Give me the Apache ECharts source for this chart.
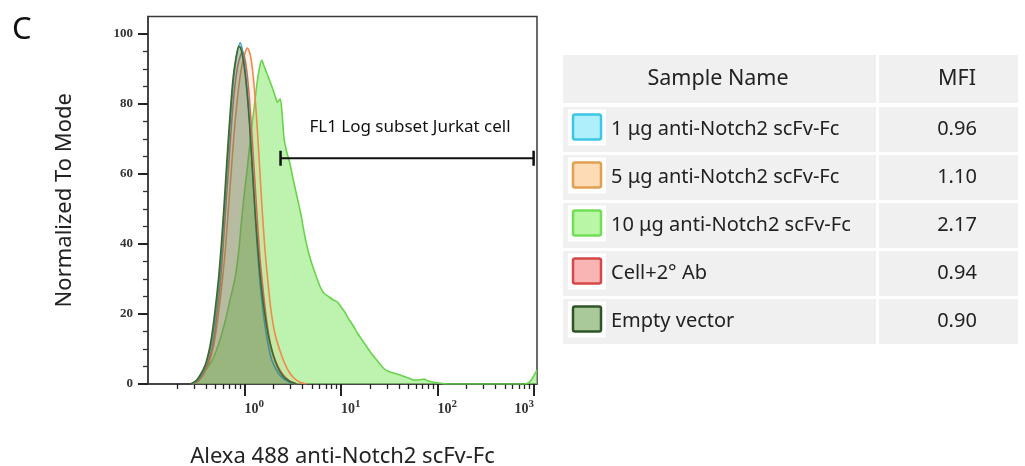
<!DOCTYPE html>
<html>
<head>
<meta charset="utf-8">
<script src="https://cdn.jsdelivr.net/npm/echarts@6/dist/echarts.min.js"></script>
<style>
  html, body { margin: 0; padding: 0; background: #fff; }
  #main { width: 1025px; height: 466px; }
</style>
</head>
<body>
<div id="main"></div>
<script>
// x values are log10 of fluorescence (decades), y = % of mode
const cyan1ug = [
  [-0.55, 0], [-0.49, 1], [-0.44, 3], [-0.39, 6.5], [-0.34, 12], [-0.3, 20], [-0.26, 30],
  [-0.23, 41], [-0.2, 53], [-0.17, 66], [-0.14, 78], [-0.11, 88], [-0.08, 94], [-0.045, 97.5],
  [-0.02, 95], [0.01, 89], [0.04, 80], [0.07, 67], [0.1, 53], [0.13, 40], [0.16, 29],
  [0.2, 19], [0.24, 12], [0.28, 7], [0.33, 4], [0.39, 1.8], [0.46, 0.6], [0.53, 0]
];
const orange5ug = [
  [-0.53, 0], [-0.47, 1], [-0.42, 3], [-0.37, 6], [-0.32, 11], [-0.28, 18], [-0.24, 27],
  [-0.2, 38], [-0.17, 49], [-0.14, 60], [-0.11, 71], [-0.08, 80], [-0.05, 87], [-0.02, 92],
  [0.01, 95], [0.03, 96], [0.06, 94], [0.09, 88], [0.12, 78], [0.15, 65], [0.18, 51],
  [0.21, 39], [0.24, 30], [0.27, 22], [0.31, 15], [0.35, 11], [0.4, 7], [0.46, 3.5],
  [0.52, 1.5], [0.58, 0.4], [0.64, 0]
];
const green10ug = [
  [-0.55, 0], [-0.5, 0.8], [-0.45, 2], [-0.4, 4], [-0.35, 6], [-0.3, 9], [-0.25, 13],
  [-0.2, 18], [-0.15, 24], [-0.1, 30], [-0.06, 38], [-0.03, 47], [0, 55], [0.03, 62],
  [0.06, 70], [0.1, 79], [0.13, 86], [0.16, 91], [0.18, 92.5], [0.2, 91], [0.235, 88.5],
  [0.27, 86], [0.29, 84.5], [0.32, 82], [0.34, 80.5], [0.37, 81.5], [0.39, 77], [0.41, 70],
  [0.44, 66], [0.47, 63], [0.5, 59], [0.54, 54], [0.58, 49], [0.62, 43], [0.65, 39],
  [0.69, 35], [0.74, 31], [0.78, 28], [0.82, 26], [0.87, 25], [0.92, 24], [0.96, 23.5],
  [1.0, 22], [1.04, 20.5], [1.08, 18.5], [1.13, 16.5], [1.17, 14.5], [1.22, 12.5],
  [1.27, 10.5], [1.32, 8.5], [1.38, 6.5], [1.44, 4.5], [1.5, 3.5], [1.56, 3], [1.62, 2.5],
  [1.69, 1.8], [1.76, 1.1], [1.82, 1.2], [1.86, 1.4], [1.9, 0.9], [1.96, 0.5], [2.03, 0.2],
  [2.1, 0], [2.9, 0], [2.95, 0.5], [2.98, 1.5], [3.01, 3], [3.03, 4]
];
const cellAb = [
  [-0.54, 0], [-0.48, 1], [-0.43, 3], [-0.38, 6], [-0.33, 11], [-0.29, 19], [-0.25, 29],
  [-0.22, 40], [-0.19, 52], [-0.16, 64], [-0.13, 76], [-0.1, 85], [-0.07, 91], [-0.04, 94],
  [-0.02, 95], [0.01, 92], [0.04, 85], [0.07, 74], [0.1, 61], [0.13, 48], [0.16, 36],
  [0.2, 25], [0.24, 16], [0.28, 10], [0.33, 6], [0.39, 3], [0.46, 1], [0.54, 0]
];
const emptyVector = [
  [-0.56, 0], [-0.5, 1], [-0.45, 3], [-0.4, 6], [-0.35, 12], [-0.31, 20], [-0.27, 30],
  [-0.24, 40], [-0.21, 52], [-0.18, 65], [-0.15, 77], [-0.12, 87], [-0.09, 93], [-0.06, 96.5],
  [-0.04, 96], [-0.01, 92], [0.02, 85], [0.05, 75], [0.08, 62], [0.11, 49], [0.14, 38],
  [0.17, 29], [0.21, 20], [0.25, 13.5], [0.29, 9], [0.34, 5], [0.4, 2.2], [0.47, 0.7], [0.54, 0]
];

// gate marker: from 10^0.373 to 10^2.995 at 64.5 %
const gateRange = [0.373, 2.995];
const gateLevel = 64.5;
const gateLabel = 'FL1 Log subset Jurkat cell';

const sampleNames = ['1 μg anti-Notch2 scFv-Fc', '5 μg anti-Notch2 scFv-Fc', '10 μg anti-Notch2 scFv-Fc', 'Cell+2° Ab', 'Empty vector'];
const mfiValues = ['0.96', '1.10', '2.17', '0.94', '0.90'];
const swatchFill = ['#aeeffb', '#fddcb5', '#b9f6a5', '#f9b4b4', '#a9c99b'];
const swatchBorder = ['#3cc6e4', '#e0a052', '#72de55', '#d44848', '#2e5427'];

const yMajorTicks = [0, 20, 40, 60, 80, 100];
const yMinorTicks = [5, 10, 15, 25, 30, 35, 45, 50, 55, 65, 70, 75, 85, 90, 95];
const xMajorTicks = [0, 1, 2, 3];
// minor ticks at 2..9 x 10^n
const xMinorTicks = [];
[-1, 0, 1, 2].forEach((d) => {
  for (let k = 2; k <= 9; k++) xMinorTicks.push(d + Math.log10(k));
});

const chart = echarts.init(document.getElementById('main'));

const areaSeries = (name, data, line, fill, z) => ({
  name,
  type: 'line',
  data,
  smooth: 0.25,
  symbol: 'none',
  z,
  lineStyle: { color: line, width: 1.6 },
  areaStyle: { color: fill, origin: 'start' }
});

// table drawn as graphic (legend + MFI)
const tbl = { left: 563, right: 1018, split: 876, headTop: 55, headH: 48, rowTop: 107, rowH: 45, gap: 3 };
const tableGraphic = [];
const cellFont = '20px "Noto Sans"';
const headFont = '21.5px "Noto Sans"';
tableGraphic.push(
  { type: 'rect', shape: { x: tbl.left, y: tbl.headTop, width: tbl.split - tbl.left, height: tbl.headH }, style: { fill: '#f0f0f0' } },
  { type: 'rect', shape: { x: tbl.split + 3, y: tbl.headTop, width: tbl.right - tbl.split - 3, height: tbl.headH }, style: { fill: '#f0f0f0' } },
  { type: 'text', x: 718, y: tbl.headTop + tbl.headH / 2, style: { text: 'Sample Name', font: headFont, fill: '#222', align: 'center', verticalAlign: 'middle' } },
  { type: 'text', x: 957, y: tbl.headTop + tbl.headH / 2, style: { text: 'MFI', font: headFont, fill: '#222', align: 'center', verticalAlign: 'middle' } }
);
sampleNames.forEach((name, i) => {
  const top = tbl.rowTop + i * (tbl.rowH + tbl.gap);
  const mid = top + tbl.rowH / 2;
  tableGraphic.push(
    { type: 'rect', shape: { x: tbl.left, y: top, width: tbl.split - tbl.left, height: tbl.rowH }, style: { fill: '#f0f0f0' } },
    { type: 'rect', shape: { x: tbl.split + 3, y: top, width: tbl.right - tbl.split - 3, height: tbl.rowH }, style: { fill: '#f0f0f0' } },
    { type: 'rect', shape: { x: 568, y: mid - 20, width: 38, height: 36 }, style: { fill: '#fff' } },
    { type: 'rect', shape: { x: 573, y: mid - 15, width: 28, height: 25, r: 2 }, style: { fill: swatchFill[i], stroke: swatchBorder[i], lineWidth: 2.5 } },
    { type: 'text', x: 611, y: mid, style: { text: name, font: cellFont, fill: '#222', verticalAlign: 'middle' } },
    { type: 'text', x: 957, y: mid, style: { text: mfiValues[i], font: cellFont, fill: '#222', align: 'center', verticalAlign: 'middle' } }
  );
});
tableGraphic.push({ type: 'text', x: 410, y: 127, style: { text: gateLabel, font: '17px "Noto Sans"', fill: '#111', align: 'center', verticalAlign: 'middle' } });

const numFont = { fontFamily: 'Liberation Serif', fontWeight: 'bold', color: '#333' };

const option = {
  animation: false,
  title: { text: 'C', left: 7, top: 10, textStyle: { fontSize: 31, fontWeight: 'normal', fontFamily: 'Noto Sans', color: '#111' } },
  grid: {
    left: 148, right: 488, top: 16.5, bottom: 82, outerBoundsMode: 'none',
    show: true, borderColor: '#3a3a3a', borderWidth: 1.5, backgroundColor: 'transparent'
  },
  xAxis: [
    {
      type: 'value', min: -1, max: 3.03,
      name: 'Alexa 488 anti-Notch2 scFv-Fc', nameLocation: 'middle', nameGap: 62,
      nameTextStyle: { fontSize: 22, fontFamily: 'Noto Sans', color: '#222' },
      axisLine: { show: true, onZero: false, lineStyle: { color: '#3a3a3a', width: 1.5 } },
      axisTick: { show: true, length: 12, customValues: xMajorTicks, lineStyle: { color: '#222', width: 2 } },
      axisLabel: {
        customValues: xMajorTicks, margin: 15, align: 'left', alignMaxLabel: 'right',
        formatter: (v) => '{b|10}{s|' + v + '}',
        rich: { b: Object.assign({ fontSize: 14 }, numFont), s: Object.assign({ fontSize: 11, padding: [0, 0, 10, 0] }, numFont) }
      },
      splitLine: { show: false }
    },
    {
      type: 'value', min: -1, max: 3.03, position: 'bottom',
      axisLine: { show: false, onZero: false },
      axisTick: { show: true, length: 5, customValues: xMinorTicks, lineStyle: { color: '#222', width: 1.3 } },
      axisLabel: { show: false },
      splitLine: { show: false }
    }
  ],
  yAxis: [
    {
      type: 'value', min: 0, max: 105,
      name: 'Normalized To Mode', nameLocation: 'middle', nameGap: 72,
      nameTextStyle: { fontSize: 22, fontFamily: 'Noto Sans', color: '#222' },
      axisLine: { show: true, onZero: false, lineStyle: { color: '#3a3a3a', width: 1.5 } },
      axisTick: { show: true, length: 10, customValues: yMajorTicks, lineStyle: { color: '#222', width: 2 } },
      axisLabel: Object.assign({ customValues: yMajorTicks, margin: 15, fontSize: 13 }, numFont),
      splitLine: { show: false }
    },
    {
      type: 'value', min: 0, max: 105, position: 'left',
      axisLine: { show: false, onZero: false },
      axisTick: { show: true, length: 5, customValues: yMinorTicks, lineStyle: { color: '#333', width: 1.3 } },
      axisLabel: { show: false },
      splitLine: { show: false }
    }
  ],
  graphic: tableGraphic,
  series: [
    areaSeries('10 μg anti-Notch2 scFv-Fc', green10ug, '#68d44c', 'rgba(150,236,125,0.88)', 1),
    areaSeries('5 μg anti-Notch2 scFv-Fc', orange5ug, '#ef8a4c', 'rgba(235,160,90,0.2)', 2),
    areaSeries('Cell+2° Ab', cellAb, '#d46a5a', 'rgba(215,110,100,0.18)', 3),
    areaSeries('1 μg anti-Notch2 scFv-Fc', cyan1ug, '#3d9ec2', 'rgba(80,165,200,0.2)', 4),
    areaSeries('Empty vector', emptyVector, '#3f6a2c', 'rgba(80,115,40,0.42)', 5),
    {
      name: 'gate', type: 'line', symbol: 'none', z: 10,
      data: [[gateRange[0], gateLevel], [gateRange[1], gateLevel]],
      lineStyle: { color: '#111', width: 2 }
    },
    {
      name: 'gate ends', type: 'scatter', z: 10,
      symbol: 'rect', symbolSize: [2.5, 15],
      itemStyle: { color: '#111', opacity: 1 },
      data: [[gateRange[0], gateLevel], [gateRange[1], gateLevel]]
    }
  ]
};

chart.setOption(option);
</script>
</body>
</html>
